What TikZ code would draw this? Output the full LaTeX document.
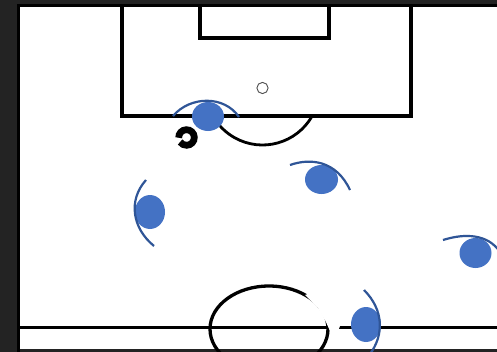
\documentclass[tikz,border=0pt]{standalone}
\usepackage{tikz}
\usetikzlibrary{shapes.geometric}
\definecolor{bgdark}{HTML}{232323}
\definecolor{plblue}{HTML}{4472C4}
\definecolor{arcblue}{HTML}{2F5597}
\begin{document}
\begin{tikzpicture}[x=0.5mm, y=-0.5mm,
    pitchline/.style={black, line width=1.65mm},
    player/.style={ellipse, fill=plblue, inner sep=0pt},
    vision/.style={arcblue, line width=1.1mm}]
    \useasboundingbox (0,0) rectangle (497,352);
    \clip (0,0) rectangle (497,352);
    % pitch
    \fill[bgdark] (0,0) rectangle (497,352);
    \fill[white] (18.5,5.5) rectangle (520,349);
    \draw[pitchline] (18.5,360) |- (520,5.5);
    \draw[pitchline] (122,5) |- (411,116) -- (411,5);
    \draw[pitchline] (200,5) |- (329,38) -- (329,5);
    \node[circle, draw=black!70, line width=0.45mm, minimum size=5.6mm, inner sep=0pt] at(262.5,88)(spot){};
    \draw[black, line width=1.4mm] ([shift={(29.4:57)}]spot.center) arc[start angle=29.4, end angle=150.6, radius=57];
    \draw[pitchline] (18,327.5) -- (520,327.5);
    \draw[pitchline] (269,329) ellipse[x radius=59, y radius=43];
    \fill[white] (305,295) -- (316,291) -- (336,316) -- (340,326) -- (338,331) -- (330,331) -- (326,322) -- (318,308) -- cycle;
    % ball
    \coordinate (ball) at(186.5,137.5);
    \draw[black, line width=3.4mm] ([shift={(178:7.8)}]ball) arc[start angle=178, end angle=505, radius=7.8];
    % players
    \node[player, minimum width=16mm, minimum height=14.5mm] at(208,116.5)(p1){};
    \node[player, minimum width=15mm, minimum height=17mm] at(150,212)(p2){};
    \node[player, minimum width=16.5mm, minimum height=14.5mm] at(321.5,179.5)(p3){};
    \node[player, minimum width=16mm, minimum height=15mm] at(475.5,253)(p4){};
    \node[player, minimum width=15mm, minimum height=17.5mm] at(366,324.5)(p5){};
    % fields of view
    \draw[vision] (173,116) .. controls (190,96) and (224,95) .. (239,117);
    \draw[vision] (146,180) .. controls (128,200) and (132,228) .. (154,246);
    \draw[vision] (290,165) .. controls (310,158) and (336,160) .. (350,190);
    \draw[vision] (443,240) .. controls (465,233) and (488,234) .. (500,252);
    \draw[vision] (364,290) .. controls (384,310) and (384,335) .. (370,354);
\end{tikzpicture}
\end{document}
